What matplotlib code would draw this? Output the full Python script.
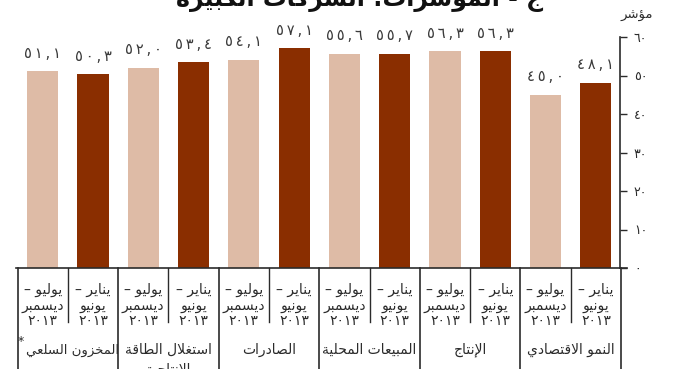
import matplotlib
matplotlib.use("Agg")
import matplotlib.pyplot as plt

# قيم المؤشرات (من اليسار إلى اليمين)
values = [51.1, 50.3, 52.0, 53.4, 54.1, 57.1, 55.6, 55.7, 56.3, 56.3, 45.0, 48.1]
periods = ["يوليو –\nديسمبر\n٢٠١٣", "يناير –\nيونيو\n٢٠١٣"] * 6
categories = ["المخزون السلعي", "استغلال الطاقة", "الصادرات",
              "المبيعات المحلية", "الإنتاج", "النمو الاقتصادي"]
extra_line = {1: "الإنتاجية"}
yticks = [0, 10, 20, 30, 40, 50, 60]
title = "ج - المؤشرات: الشركات الكبيرة"
unit = "مؤشر"

light = "#DEBBA6"
dark = "#8A2E00"
ink = "#2b2b2b"

# أشكال الحروف العربية: (الرمز الأساسي, يتصل من الجهتين)
FORMS = {
    'ا': (0xFE8D, False), 'إ': (0xFE87, False), 'ؤ': (0xFE85, False),
    'ب': (0xFE8F, True), 'ة': (0xFE93, False), 'ت': (0xFE95, True),
    'ج': (0xFE9D, True), 'ح': (0xFEA1, True), 'خ': (0xFEA5, True),
    'د': (0xFEA9, False), 'ر': (0xFEAD, False), 'ز': (0xFEAF, False),
    'س': (0xFEB1, True), 'ش': (0xFEB5, True), 'ص': (0xFEB9, True),
    'ط': (0xFEC1, True), 'ع': (0xFEC9, True), 'غ': (0xFECD, True),
    'ق': (0xFED5, True), 'ك': (0xFED9, True), 'ل': (0xFEDD, True),
    'م': (0xFEE1, True), 'ن': (0xFEE5, True), 'و': (0xFEED, False),
    'ي': (0xFEF1, True),
}
LAM_ALEF = {'ا': 0xFEFB, 'إ': 0xFEF9}


def shape_line(text):
    # سطر بلا حروف عربية (أرقام فقط) يبقى كما هو
    if not any(c in FORMS for c in text):
        return text
    items = []
    i = 0
    while i < len(text):
        c = text[i]
        if c == 'ل' and i + 1 < len(text) and text[i + 1] in LAM_ALEF:
            items.append(('LA', text[i + 1]))
            i += 2
        else:
            items.append(c)
            i += 1

    def is_ar(x):
        return isinstance(x, tuple) or x in FORMS

    def joins_fwd(x):
        return not isinstance(x, tuple) and x in FORMS and FORMS[x][1]

    out = []
    for k, it in enumerate(items):
        prev = items[k - 1] if k > 0 else None
        nxt = items[k + 1] if k + 1 < len(items) else None
        jp = prev is not None and joins_fwd(prev)
        if isinstance(it, tuple):
            out.append(chr(LAM_ALEF[it[1]] + (1 if jp else 0)))
        elif it in FORMS:
            base, dual = FORMS[it]
            if not dual:
                out.append(chr(base + (1 if jp else 0)))
            else:
                jn = nxt is not None and is_ar(nxt)
                off = [[0, 2], [1, 3]][int(jp)][int(jn)]
                out.append(chr(base + off))
        else:
            out.append(it)
    return ''.join(reversed(out))


def ar(text):
    return "\n".join(shape_line(l) for l in text.split("\n"))


def ar_num(v, dec=True, spaced=False):
    s = f"{v:.1f}" if dec else str(v)
    s = s.replace(".", ",")
    s = s.translate(str.maketrans("0123456789", "٠١٢٣٤٥٦٧٨٩"))
    if spaced:
        s = "\u2009".join(s)
    return s


plt.rcParams['font.family'] = ['DejaVu Sans']

fig = plt.figure(figsize=(6.76, 3.69), dpi=100)
ax = fig.add_axes([16 / 676, 101 / 369, 604 / 676, 231 / 369])

x = list(range(len(values)))
colors = [light if i % 2 == 0 else dark for i in x]
ax.bar(x, values, width=0.62, color=colors)

for i, v in enumerate(values):
    ax.annotate(ar_num(v, spaced=True), (i, v), xytext=(0, 13),
                textcoords="offset points", ha="center", va="center",
                fontsize=10.5, color="#3a3a3a")

ax.set_xlim(-0.53, 11.48)
ax.set_ylim(0, 60)

ax.yaxis.tick_right()
ax.set_yticks(yticks)
ax.set_yticklabels([ar_num(t, dec=False) for t in yticks], fontsize=9, color=ink)
ax.tick_params(axis="y", direction="out", length=5, width=1, color=ink, pad=5)
ax.set_xticks([])

for s in ["left", "top"]:
    ax.spines[s].set_visible(False)
ax.spines["right"].set_bounds(0, 60)
ax.spines["right"].set_color(ink)
ax.spines["bottom"].set_color(ink)
ax.spines["right"].set_linewidth(1.2)
ax.spines["bottom"].set_linewidth(1.2)

# الخطوط الفاصلة أسفل المحور
tr = ax.get_xaxis_transform()
for j in range(7):
    xs = -0.5 + 2 * j
    ax.plot([xs, xs], [0, -0.45], transform=tr, color=ink, lw=1.2, clip_on=False)
for j in range(6):
    xs = 0.5 + 2 * j
    ax.plot([xs, xs], [0, -0.234], transform=tr, color=ink, lw=1, clip_on=False)
ax.plot([11.48, 11.62], [0, 0], transform=tr, color=ink, lw=1.2, clip_on=False)

for i, p in enumerate(periods):
    for n, line in enumerate(p.split("\n")):
        ax.text(i, -0.095 - 0.068 * n, ar(line), transform=tr, ha="center",
                va="center", fontsize=10, color=ink)

for j, c in enumerate(categories):
    cx = 2 * j + 0.5 + (0.1 if j == 0 else 0)
    fs = 9.5 if j == 0 else 10
    ax.text(cx, -0.355, ar(c), transform=tr, ha="center", va="center",
            fontsize=fs, color=ink)
    if j in extra_line:
        ax.text(cx, -0.44, ar(extra_line[j]), transform=tr,
                ha="center", va="center", fontsize=fs, color=ink)

# علامة الحاشية بجانب المخزون السلعي
ax.text(-0.49, -0.32, "*", transform=tr, ha="left", va="center",
        fontsize=9, color=ink)

fig.text(637 / 676, 1 - 15 / 369, ar(unit), ha="center", va="center",
         fontsize=9.5, color=ink)
fig.text(360 / 676, 1 - 6 / 369, ar(title), ha="center", va="baseline",
         fontsize=17, fontweight="bold", color="#111111")

fig.savefig("out.png", dpi=100)
